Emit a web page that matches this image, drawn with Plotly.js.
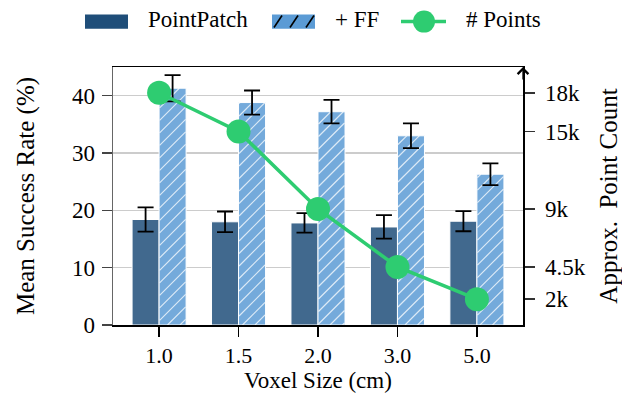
<!DOCTYPE html>
<html>
<head>
<meta charset="utf-8">
<script src="https://cdn.plot.ly/plotly-3.0.1.min.js"></script>
<style>html,body{margin:0;padding:0;background:#fff;}#chart{width:622px;height:394px;}</style>
</head>
<body>
<div id="chart"></div>
<script>
const categories = ['1.0', '1.5', '2.0', '3.0', '5.0'];
const pointPatch = [18.4, 18.0, 17.8, 17.1, 18.1];
const pointPatchErr = [2.1, 1.8, 1.7, 2.05, 1.75];
const plusFF = [41.3, 38.8, 37.2, 33.0, 26.3];
const plusFFErr = [2.3, 2.1, 2.05, 2.15, 1.9];
const pointCount = [18000, 15000, 9000, 4500, 2000];
const rightTickVals = [2000, 4500, 9000, 15000, 18000];
const rightTickText = ['2k', '4.5k', '9k', '15k', '18k'];
const leftTickVals = [0, 10, 20, 30, 40];

const FONT = '"Liberation Serif", "Times New Roman", Times, serif';
const DARK = '#1f4e79', LIGHT = '#5b9bd5', GREEN = '#2ecc71';

const traces = [
  {
    type: 'bar', name: 'PointPatch', x: categories, y: pointPatch,
    marker: {color: '#41698e', line: {color: '#ffffff', width: 1}},
    error_y: {type: 'data', array: pointPatchErr, visible: true, color: '#000', thickness: 1.8, width: 8},
    showlegend: false
  },
  {
    type: 'bar', name: '+ FF', x: categories, y: plusFF,
    marker: {color: '#74aadb', line: {color: '#ffffff', width: 1}},
    error_y: {type: 'data', array: plusFFErr, visible: true, color: '#000', thickness: 1.8, width: 8},
    showlegend: false
  },
  {
    type: 'scatter', mode: 'lines+markers', name: '# Points', x: categories, y: pointCount,
    yaxis: 'y2', line: {color: GREEN, width: 3.5}, marker: {color: GREEN, size: 24},
    showlegend: false
  }
];

const px = v => (v - 113) / 410;
const py = v => (325 - v) / 258;
const shapes = [
  {type: 'rect', xref: 'paper', yref: 'paper', x0: px(85), x1: px(128), y0: py(28.8), y1: py(14.4), fillcolor: DARK, line: {width: 0}},
  {type: 'rect', xref: 'paper', yref: 'paper', x0: px(272), x1: px(315), y0: py(28.8), y1: py(14.4), fillcolor: LIGHT, line: {width: 0}},
  {type: 'line', xref: 'paper', yref: 'paper', x0: px(401), x1: px(446), y0: py(21.6), y1: py(21.6), line: {color: GREEN, width: 3.5}},
  {type: 'circle', xref: 'paper', yref: 'paper', xsizemode: 'pixel', ysizemode: 'pixel', xanchor: px(424), yanchor: py(21.6), x0: -11, x1: 11, y0: -11, y1: 11, fillcolor: GREEN, line: {width: 0}}
];
[274, 290, 306].forEach(x0 => {
  shapes.push({type: 'line', xref: 'paper', yref: 'paper', x0: px(x0), x1: px(x0 + 8), y0: py(27.5), y1: py(15.5), line: {color: '#000', width: 1.6}});
});
const annotations = [
  {xref: 'paper', yref: 'paper', x: px(146), y: py(20), text: 'PointPatch', showarrow: false, xanchor: 'left', yanchor: 'middle', font: {family: FONT, size: 23, color: '#000'}},
  {xref: 'paper', yref: 'paper', x: px(333), y: py(20), text: '+ FF', showarrow: false, xanchor: 'left', yanchor: 'middle', font: {family: FONT, size: 23, color: '#000'}},
  {xref: 'paper', yref: 'paper', x: px(464), y: py(20), text: '# Points', showarrow: false, xanchor: 'left', yanchor: 'middle', font: {family: FONT, size: 23, color: '#000'}},
  {xref: 'paper', yref: 'paper', x: 1, y: 1, ax: 0, ay: 14, text: '', showarrow: true, arrowhead: 4, arrowsize: 1.6, arrowwidth: 1.3, arrowcolor: '#000'}
];

const layout = {
  width: 622, height: 394,
  margin: {l: 113, r: 99, t: 67, b: 69},
  paper_bgcolor: '#fff', plot_bgcolor: '#fff',
  font: {family: FONT, size: 23, color: '#000'},
  barmode: 'group', bargap: 0.32, bargroupgap: 0,
  showlegend: false,
  xaxis: {
    type: 'category', range: [-0.58, 4.58],
    showline: true, linecolor: '#000', linewidth: 1.5, mirror: true,
    ticks: 'outside', ticklen: 10, tickwidth: 1.5, tickcolor: '#000',
    ticklabelstandoff: 0,
    showgrid: false, zeroline: false,
    tickfont: {family: FONT, size: 22, color: '#000'},
    title: {text: 'Voxel Size (cm)', font: {family: FONT, size: 23, color: '#000'}, standoff: 5}
  },
  yaxis: {
    range: [0, 45], tickvals: leftTickVals,
    showline: true, linecolor: '#666', linewidth: 1.5,
    ticks: 'outside', ticklen: 10, tickwidth: 1.5, tickcolor: '#444',
    ticklabelstandoff: 2,
    showgrid: true, gridcolor: '#cccccc', gridwidth: 1.5, zeroline: false,
    tickfont: {family: FONT, size: 23, color: '#000'},
    title: {text: 'Mean Success Rate (%)', font: {family: FONT, size: 25, color: '#000'}, standoff: 30}
  },
  yaxis2: {
    overlaying: 'y', side: 'right', range: [0, 20000],
    tickvals: rightTickVals, ticktext: rightTickText,
    showline: true, linecolor: '#000', linewidth: 1.5,
    ticks: 'outside', ticklen: 10, tickwidth: 1.5, tickcolor: '#333',
    ticklabelstandoff: 6,
    showgrid: false, zeroline: false,
    tickfont: {family: FONT, size: 23, color: '#000'},
    title: {text: 'Approx.  Point Count', font: {family: FONT, size: 25, color: '#000'}, standoff: 15}
  },
  shapes: shapes,
  annotations: annotations
};

// Draw white diagonal hatching over the rendered "+ FF" bars (decoration of library-drawn bars)
function hatchBars() {
  const NS = 'http://www.w3.org/2000/svg';
  const groups = document.querySelectorAll('#chart .trace.bars');
  const g = groups[1];
  if (!g) return;
  const step = 12.5;
  g.querySelectorAll('g.point > path').forEach(p => {
    let b;
    try { b = p.getBBox(); } catch (e) { return; }
    const x0 = b.x + 0.5, x1 = b.x + b.width - 0.5, y0 = b.y, y1 = b.y + b.height;
    const cStart = Math.ceil((x0 + y0) / step) * step;
    for (let c = cStart; c <= x1 + y1; c += step) {
      const xa = Math.max(x0, c - y1), xb = Math.min(x1, c - y0);
      if (xb - xa < 0.5) continue;
      const ln = document.createElementNS(NS, 'line');
      ln.setAttribute('x1', xa); ln.setAttribute('y1', c - xa);
      ln.setAttribute('x2', xb); ln.setAttribute('y2', c - xb);
      ln.setAttribute('stroke', '#ffffff');
      ln.setAttribute('stroke-opacity', '0.75');
      ln.setAttribute('stroke-width', '1.2');
      p.parentNode.appendChild(ln);
    }
  });
}

Plotly.newPlot('chart', traces, layout, {displayModeBar: false, staticPlot: true}).then(hatchBars);
</script>
</body>
</html>
